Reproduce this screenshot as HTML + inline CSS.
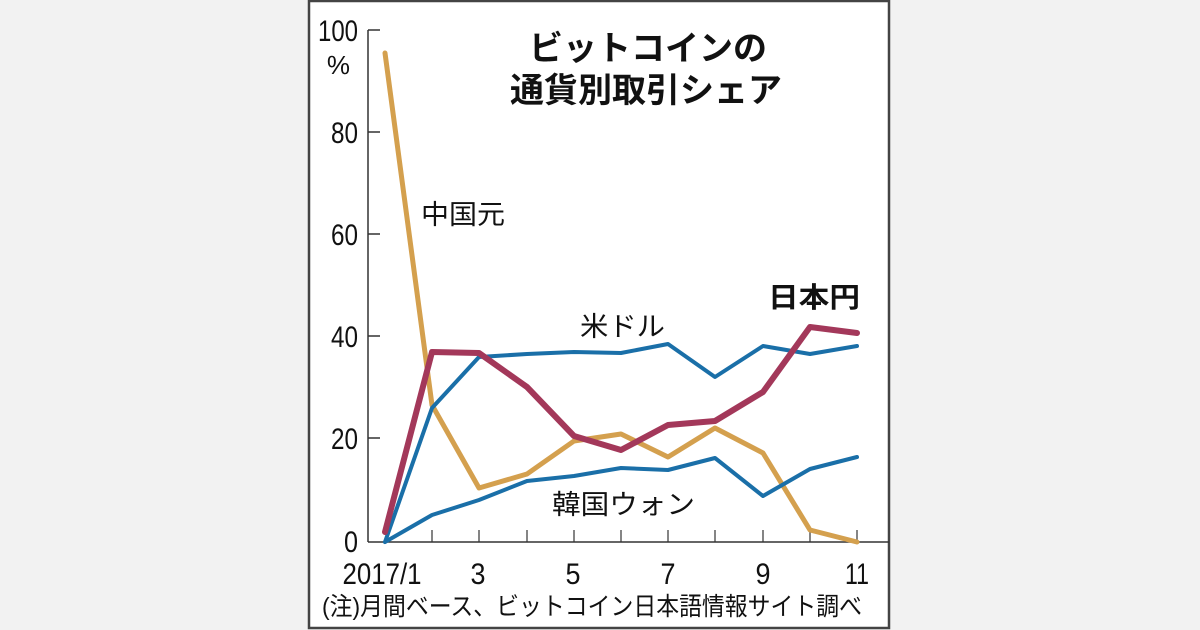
<!DOCTYPE html>
<html><head><meta charset="utf-8"><style>
html,body{margin:0;padding:0;background:#f2f2f2;}
svg{display:block}
text{font-family:"Liberation Sans","Noto Sans CJK JP",sans-serif;fill:#111}
</style></head><body>
<svg width="1200" height="630" viewBox="0 0 1200 630">
<rect x="0" y="0" width="1200" height="630" fill="#f2f2f2"/>
<rect x="309" y="1" width="580" height="627" fill="#fff" stroke="#444" stroke-width="2.5"/>
<g font-size="34" font-weight="bold" text-anchor="middle">
<text x="648" y="60">ビットコインの</text>
<text x="646" y="102">通貨別取引シェア</text>
</g>
<g stroke="#333" stroke-width="1.5" fill="none">
<line x1="368" y1="30" x2="368" y2="542"/>
<line x1="368" y1="542" x2="889" y2="542"/>
<line x1="368" y1="30" x2="380" y2="30"/>
<line x1="368" y1="132" x2="380" y2="132"/>
<line x1="368" y1="234" x2="380" y2="234"/>
<line x1="368" y1="336" x2="380" y2="336"/>
<line x1="368" y1="438" x2="380" y2="438"/>
</g>
<g stroke="#333" stroke-width="1.2">
<line x1="432" y1="542" x2="432" y2="530"/><line x1="479" y1="542" x2="479" y2="530"/>
<line x1="527" y1="542" x2="527" y2="530"/><line x1="574" y1="542" x2="574" y2="530"/>
<line x1="621" y1="542" x2="621" y2="530"/><line x1="668" y1="542" x2="668" y2="530"/>
<line x1="715" y1="542" x2="715" y2="530"/><line x1="763" y1="542" x2="763" y2="530"/>
<line x1="810" y1="542" x2="810" y2="530"/><line x1="857" y1="542" x2="857" y2="530"/>
</g>
<g font-size="30" text-anchor="end" lengthAdjust="spacingAndGlyphs">
<text x="358" y="41" textLength="40" lengthAdjust="spacingAndGlyphs">100</text>
<text x="350" y="74" font-size="26">%</text>
<text x="358" y="143" textLength="27" lengthAdjust="spacingAndGlyphs">80</text>
<text x="358" y="245" textLength="27" lengthAdjust="spacingAndGlyphs">60</text>
<text x="358" y="347" textLength="27" lengthAdjust="spacingAndGlyphs">40</text>
<text x="358" y="449" textLength="27" lengthAdjust="spacingAndGlyphs">20</text>
<text x="358" y="552" textLength="14" lengthAdjust="spacingAndGlyphs">0</text>
</g>
<g font-size="30" text-anchor="middle">
<text x="382" y="584" textLength="79" lengthAdjust="spacingAndGlyphs">2017/1</text>
<text x="478" y="584" textLength="15" lengthAdjust="spacingAndGlyphs">3</text>
<text x="573" y="584" textLength="15" lengthAdjust="spacingAndGlyphs">5</text>
<text x="668" y="584" textLength="15" lengthAdjust="spacingAndGlyphs">7</text>
<text x="763" y="584" textLength="15" lengthAdjust="spacingAndGlyphs">9</text>
<text x="857" y="584" textLength="24" lengthAdjust="spacingAndGlyphs">11</text>
</g>
<text x="322" y="615" font-size="25" textLength="540" lengthAdjust="spacingAndGlyphs">(注)月間ベース、ビットコイン日本語情報サイト調べ</text>
<g fill="none" stroke-linejoin="round" stroke-linecap="round">
<polyline stroke="#d4a04e" stroke-width="5" points="385,53 432,405 479,488 527,474 574,441 621,434 668,457 715,428 763,453 810,530 857,542"/>
<polyline stroke="#1a6fa8" stroke-width="4" points="385,542 432,408 479,357 527,354 574,352 621,353 668,344 715,377 763,346 810,354 857,346"/>
<polyline stroke="#1a6fa8" stroke-width="4" points="385,542 432,515 479,500 527,481 574,476 621,468 668,470 715,458 763,496 810,469 857,457"/>
<polyline stroke="#a3385a" stroke-width="6" points="385,532 432,352 479,353 527,387 574,436 621,450 668,425 715,421 763,392 810,327 857,333"/>
</g>
<g font-size="27">
<text x="421" y="224" textLength="84" lengthAdjust="spacingAndGlyphs">中国元</text>
<text x="580" y="336" textLength="85" lengthAdjust="spacingAndGlyphs">米ドル</text>
<text x="552" y="514" textLength="143" lengthAdjust="spacingAndGlyphs">韓国ウォン</text>
<text x="768" y="307" font-weight="bold" font-size="28" textLength="92" lengthAdjust="spacingAndGlyphs">日本円</text>
</g>
</svg>
</body></html>
